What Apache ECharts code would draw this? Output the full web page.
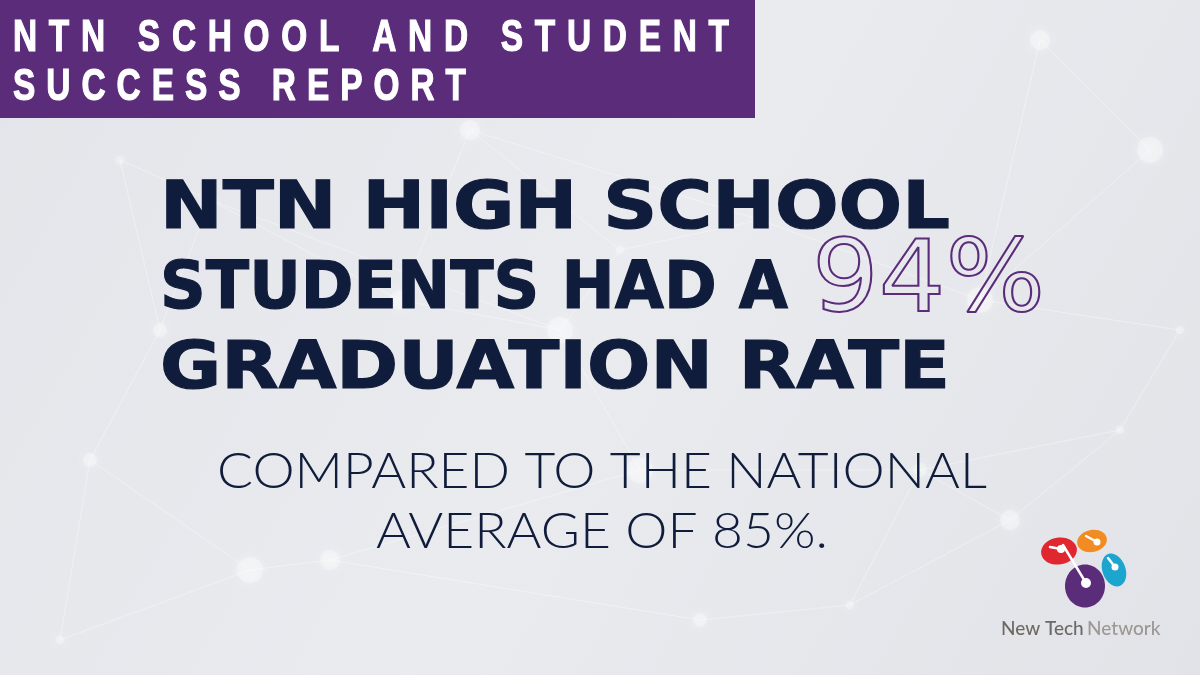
<!DOCTYPE html>
<html lang="en">
<head>
    <meta charset="utf-8">
    <title>NTN School and Student Success Report</title>
    <script src="https://cdn.jsdelivr.net/npm/echarts@6/dist/echarts.min.js"></script>
    <style>
        html, body { margin: 0; padding: 0; background: #e7e8ec; }
        #main { width: 1200px; height: 675px; }
    </style>
</head>
<body>
<div id="main"></div>

<script type="text/javascript">
    // data
    var titleLines = ['NTN SCHOOL AND STUDENT', 'SUCCESS REPORT'];
    var headlineLines = ['NTN HIGH SCHOOL', 'STUDENTS HAD A', 'GRADUATION RATE'];
    var metricNames = ['NTN high school graduation rate', 'National average'];
    var metricValues = [94, 85];
    var compareLines = ['COMPARED TO THE NATIONAL', 'AVERAGE OF '];
    var brandParts = ['New Tech', 'Network'];

    var NAVY = '#101c3b';
    var PURPLE = '#5a2c7a';

    var ctx = document.createElement('canvas').getContext('2d');
    function measure(str, font) {
        ctx.font = font;
        return ctx.measureText(str).width;
    }

    var els = [];

    // background
    els.push({
        type: 'rect', shape: {x: 0, y: 0, width: 1200, height: 675}, silent: true,
        style: {fill: new echarts.graphic.LinearGradient(0, 0, 1, 1, [
            {offset: 0, color: '#e4e5ea'},
            {offset: 0.5, color: '#eaebef'},
            {offset: 1, color: '#e2e3e8'}
        ])}
    });

    // faint network in the background
    var nodes = [[120, 160], [210, 200], [470, 130], [560, 330], [620, 250], [760, 220],
                 [1040, 40], [1150, 150], [1180, 330], [90, 460], [330, 560], [250, 570],
                 [850, 605], [920, 470], [1010, 520], [640, 470], [60, 640], [700, 620],
                 [400, 300], [980, 300], [1120, 430], [160, 330]];
    var links = [[0, 1], [1, 3], [0, 21], [21, 9], [9, 11], [11, 10], [10, 15], [15, 3], [3, 4],
                 [4, 5], [5, 19], [19, 7], [7, 6], [6, 19], [19, 8], [8, 20], [20, 14], [14, 13],
                 [13, 15], [13, 12], [12, 17], [17, 10], [9, 16], [2, 4], [2, 18], [18, 3], [18, 1],
                 [5, 2], [20, 13], [14, 12], [1, 21], [16, 11]];
    links.forEach(function (l) {
        var a = nodes[l[0]], b = nodes[l[1]];
        els.push({type: 'line', silent: true, shape: {x1: a[0], y1: a[1], x2: b[0], y2: b[1]},
            style: {stroke: '#ffffff', lineWidth: 1, opacity: 0.35}});
    });
    nodes.forEach(function (n, i) {
        els.push({type: 'circle', silent: true, shape: {cx: n[0], cy: n[1], r: 4 + (i % 4) * 3},
            style: {fill: '#ffffff', opacity: 0.3, shadowBlur: 8, shadowColor: '#ffffff'}});
    });

    // purple title band
    els.push({type: 'rect', shape: {x: 0, y: 0, width: 755, height: 118}, style: {fill: PURPLE}});

    // title with wide letter spacing
    var titleFont = 'bold 44px "Liberation Sans", Arial, sans-serif';
    var titleSqueeze = 0.76;
    var titleEnds = [729, 466];
    titleLines.forEach(function (line, li) {
        var chars = line.split('');
        var natural = measure(line, titleFont) * titleSqueeze;
        var spacing = (titleEnds[li] - 13 - natural) / (chars.length - 1);
        var x = 13;
        chars.forEach(function (ch) {
            els.push({type: 'text', x: x, y: 39 + li * 48.5, scaleX: titleSqueeze, style: {
                text: ch, font: titleFont, fill: '#ffffff', stroke: '#ffffff', lineWidth: 1.2,
                verticalAlign: 'middle', align: 'left'
            }});
            x += measure(ch, titleFont) * titleSqueeze + spacing;
        });
    });

    // headline, each line fitted to its width in the reference
    var headFont = 'bold 66px "DejaVu Sans"';
    var headWidths = [790, 628, 790];
    headlineLines.forEach(function (line, i) {
        els.push({type: 'text', x: 160, y: 211 + i * 80,
            scaleX: headWidths[i] / measure(line, headFont), style: {
            text: line, font: headFont, fill: NAVY, stroke: NAVY, lineWidth: 1.2,
            verticalAlign: 'middle', align: 'left'
        }});
    });

    // outlined value
    var bigFont = '500 99px "DejaVu Sans"';
    var bigText = metricValues[0] + '%';
    els.push({type: 'text', x: 812, y: 285, scaleX: 233 / measure(bigText, bigFont), style: {
        text: bigText, font: bigFont, fill: 'rgba(0,0,0,0)', stroke: PURPLE, lineWidth: 2,
        verticalAlign: 'middle', align: 'left'
    }});

    // comparison text
    var subFont = '300 49px Lato, "Open Sans", sans-serif';
    var subTexts = [compareLines[0], compareLines[1] + metricValues[1] + '%.'];
    var subScale = 770 / measure(subTexts[0], subFont);
    subTexts.forEach(function (line, i) {
        els.push({type: 'text', x: 602, y: 472 + i * 60, scaleX: subScale, style: {
            text: line, font: subFont, fill: NAVY, verticalAlign: 'middle', align: 'center'
        }});
    });

    // logo
    var rings = [
        {cx: 1059, cy: 551, rx: 18, ry: 13.5, rot: 0.15, color: '#e0262f', hole: [1061, 549, 4]},
        {cx: 1092, cy: 541, rx: 15, ry: 11, rot: 0.2, color: '#f28b22', hole: [1097, 542, 3.5]},
        {cx: 1114, cy: 570, rx: 11.5, ry: 17, rot: 0.35, color: '#1ba5cf', hole: [1115, 567, 3.5]},
        {cx: 1085, cy: 586, rx: 20, ry: 21.5, rot: 0, color: '#5a2c7a', hole: [1086, 583, 5]}
    ];
    rings.forEach(function (r) {
        els.push({type: 'ellipse', x: r.cx, y: r.cy, rotation: r.rot,
            shape: {cx: 0, cy: 0, rx: r.rx, ry: r.ry}, style: {fill: r.color}});
    });
    var spokes = [[1086, 583, 1063, 545], [1061, 549, 1050, 547], [1097, 542, 1086, 536], [1115, 567, 1108, 558]];
    spokes.forEach(function (s) {
        els.push({type: 'line', shape: {x1: s[0], y1: s[1], x2: s[2], y2: s[3]},
            style: {stroke: '#ffffff', lineWidth: 2.5, lineCap: 'round'}});
    });
    rings.forEach(function (r) {
        els.push({type: 'circle', shape: {cx: r.hole[0], cy: r.hole[1], r: r.hole[2]},
            style: {fill: '#ffffff'}});
    });
    els.push({type: 'text', x: 1001, y: 629, style: {
        text: '{a|' + brandParts[0] + '} {b|' + brandParts[1] + '}',
        verticalAlign: 'middle', align: 'left',
        rich: {
            a: {font: '500 19px Lato, sans-serif', fill: '#6d6964'},
            b: {font: '500 19px Lato, sans-serif', fill: '#9c9894'}
        }
    }});

    var myChart = echarts.init(document.getElementById('main'));
    myChart.setOption({
        animation: false,
        graphic: {elements: els}
    });
</script>
</body>
</html>
